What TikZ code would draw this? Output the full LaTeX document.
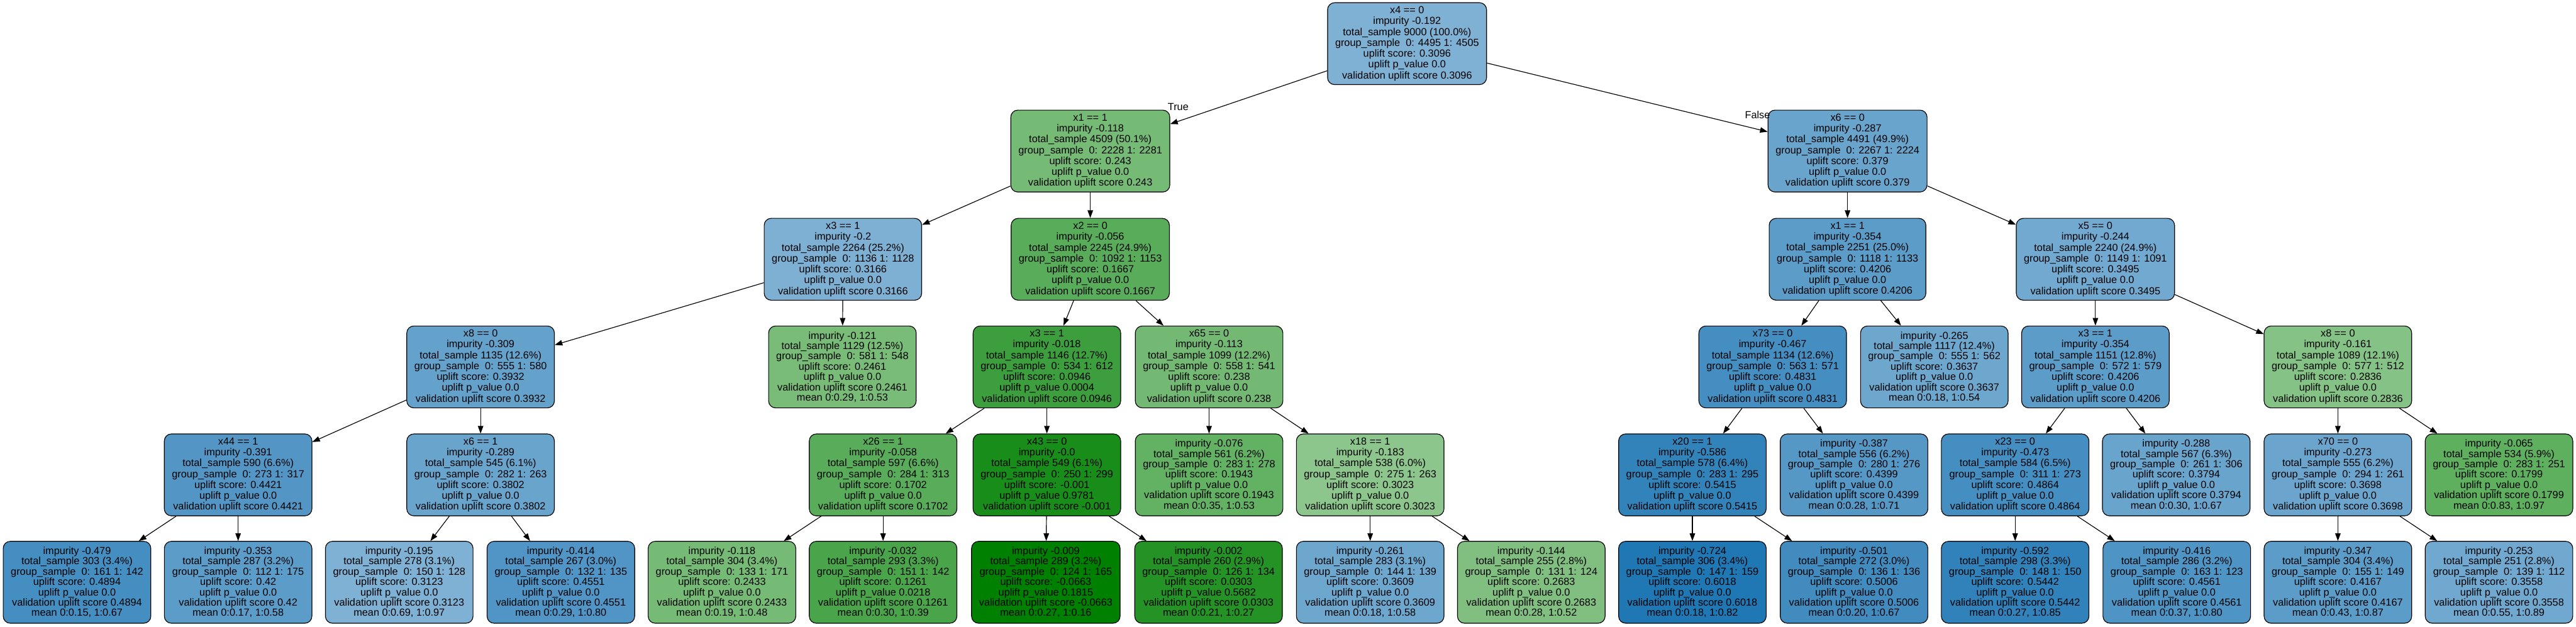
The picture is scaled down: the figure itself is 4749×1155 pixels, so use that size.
\documentclass[tikz,border=0pt]{standalone}
\usepackage{fontspec}
\setmainfont{Liberation Sans}
\usetikzlibrary{arrows.meta}
\definecolor{upliftblue}{HTML}{1F77B4}
\definecolor{upliftgreen}{HTML}{008000}
\tikzset{
  treebox/.style={draw=black, line width=1.35pt, rounded corners=13pt, minimum width=272pt,
    minimum height=151pt, inner xsep=14pt, inner ysep=0pt, align=center,
    font=\fontsize{18.9}{20}\selectfont},
  leafbox/.style={treebox, font=\fontsize{18.9}{19}\selectfont},
  edge/.style={-{Triangle[length=14pt,width=10pt]}, line width=1.35pt},
  edgelabel/.style={inner sep=0pt, font=\fontsize{18.9}{20}\selectfont}
}
% name, position, fill, test, impurity, total, group, score, p_value
\newcommand{\splitNode}[9]{
  \node[treebox, fill=#3] (#1) at (#2) {#4\\impurity #5\\total\_sample #6\\group\_sample~ #7\\uplift score: #8\\uplift p\_value #9\\validation uplift score #8};
}
% name, position, fill, impurity, total, group, score, p_value, mean
\newcommand{\leafNode}[9]{
  \node[leafbox, fill=#3] (#1) at (#2) {impurity #4\\total\_sample #5\\group\_sample~ #6\\uplift score: #7\\uplift p\_value #8\\validation uplift score #7\\mean #9};
}
\begin{document}
\begin{tikzpicture}[x=1pt, y=-1pt]
  \fill[white] (0,0) rectangle (4749,1155);
  \useasboundingbox (0,0) rectangle (4749,1155);

  % Root and first splits
  \splitNode{N}{2594,80.5}{upliftblue!57}{x4 == 0}{-0.192}{9000 (100.0\%)}{0: 4495 1: 4505}{0.3096}{0.0}
  \splitNode{NL}{2010,278.5}{upliftgreen!54}{x1 == 1}{-0.118}{4509 (50.1\%)}{0: 2228 1: 2281}{0.243}{0.0}
  \splitNode{NR}{3406,278.5}{upliftblue!67}{x6 == 0}{-0.287}{4491 (49.9\%)}{0: 2267 1: 2224}{0.379}{0.0}

  % Level 2
  \splitNode{NLL}{1554,478}{upliftblue!58}{x3 == 1}{-0.2}{2264 (25.2\%)}{0: 1136 1: 1128}{0.3166}{0.0}
  \splitNode{NLR}{2010,478}{upliftgreen!65}{x2 == 0}{-0.056}{2245 (24.9\%)}{0: 1092 1: 1153}{0.1667}{0.0}
  \splitNode{NRL}{3406,478}{upliftblue!73}{x1 == 1}{-0.354}{2251 (25.0\%)}{0: 1118 1: 1133}{0.4206}{0.0}
  \splitNode{NRR}{3863,478}{upliftblue!63}{x5 == 0}{-0.244}{2240 (24.9\%)}{0: 1149 1: 1091}{0.3495}{0.0}

  % Level 3
  \splitNode{NLLL}{886,676.5}{upliftblue!69}{x8 == 0}{-0.309}{1135 (12.6\%)}{0: 555 1: 580}{0.3932}{0.0}
  \leafNode{NLLR}{1553,676.5}{upliftgreen!53}{-0.121}{1129 (12.5\%)}{0: 581 1: 548}{0.2461}{0.0}{0:0.29, 1:0.53}
  \splitNode{NLRL}{1930,676.5}{upliftgreen!76}{x3 == 1}{-0.018}{1146 (12.7\%)}{0: 534 1: 612}{0.0946}{0.0004}
  \splitNode{NLRR}{2229,676.5}{upliftgreen!55}{x65 == 0}{-0.113}{1099 (12.2\%)}{0: 558 1: 541}{0.238}{0.0}
  \splitNode{NRLL}{3268,676.5}{upliftblue!83}{x73 == 0}{-0.467}{1134 (12.6\%)}{0: 563 1: 571}{0.4831}{0.0}
  \leafNode{NRLR}{3566,676.5}{upliftblue!65}{-0.265}{1117 (12.4\%)}{0: 555 1: 562}{0.3637}{0.0}{0:0.18, 1:0.54}
  \splitNode{NRRL}{3863,676.5}{upliftblue!73}{x3 == 1}{-0.354}{1151 (12.8\%)}{0: 572 1: 579}{0.4206}{0.0}
  \splitNode{NRRR}{4310,676.5}{upliftgreen!48}{x8 == 0}{-0.161}{1089 (12.1\%)}{0: 577 1: 512}{0.2836}{0.0}

  % Level 4
  \splitNode{NLLLL}{439,875.5}{upliftblue!77}{x44 == 1}{-0.391}{590 (6.6\%)}{0: 273 1: 317}{0.4421}{0.0}
  \splitNode{NLLLR}{886,875.5}{upliftblue!67}{x6 == 1}{-0.289}{545 (6.1\%)}{0: 282 1: 263}{0.3802}{0.0}
  \splitNode{NLRLL}{1628,875.5}{upliftgreen!65}{x26 == 1}{-0.058}{597 (6.6\%)}{0: 284 1: 313}{0.1702}{0.0}
  \splitNode{NLRLR}{1930,875.5}{upliftgreen!90}{x43 == 0}{-0.0}{549 (6.1\%)}{0: 250 1: 299}{-0.001}{0.9781}
  \leafNode{NLRRL}{2229,875.5}{upliftgreen!61}{-0.076}{561 (6.2\%)}{0: 283 1: 278}{0.1943}{0.0}{0:0.35, 1:0.53}
  \splitNode{NLRRR}{2526,875.5}{upliftgreen!45}{x18 == 1}{-0.183}{538 (6.0\%)}{0: 275 1: 263}{0.3023}{0.0}
  \splitNode{NRLLL}{3120,875.5}{upliftblue!91}{x20 == 1}{-0.586}{578 (6.4\%)}{0: 283 1: 295}{0.5415}{0.0}
  \leafNode{NRLLR}{3418,875.5}{upliftblue!76}{-0.387}{556 (6.2\%)}{0: 280 1: 276}{0.4399}{0.0}{0:0.28, 1:0.71}
  \splitNode{NRRLL}{3715,875.5}{upliftblue!83}{x23 == 0}{-0.473}{584 (6.5\%)}{0: 311 1: 273}{0.4864}{0.0}
  \leafNode{NRRLR}{4012,875.5}{upliftblue!67}{-0.288}{567 (6.3\%)}{0: 261 1: 306}{0.3794}{0.0}{0:0.30, 1:0.67}
  \splitNode{NRRRL}{4310,875.5}{upliftblue!66}{x70 == 0}{-0.273}{555 (6.2\%)}{0: 294 1: 261}{0.3698}{0.0}
  \leafNode{NRRRR}{4607,875.5}{upliftgreen!63}{-0.065}{534 (5.9\%)}{0: 283 1: 251}{0.1799}{0.0}{0:0.83, 1:0.97}

  % Level 5 leaves
  \leafNode{NLLLLL}{142,1073.5}{upliftblue!83}{-0.479}{303 (3.4\%)}{0: 161 1: 142}{0.4894}{0.0}{0:0.15, 1:0.67}
  \leafNode{NLLLLR}{439,1073.5}{upliftblue!73}{-0.353}{287 (3.2\%)}{0: 112 1: 175}{0.42}{0.0}{0:0.17, 1:0.58}
  \leafNode{NLLLRL}{736,1073.5}{upliftblue!57}{-0.195}{278 (3.1\%)}{0: 150 1: 128}{0.3123}{0.0}{0:0.69, 1:0.97}
  \leafNode{NLLLRR}{1034,1073.5}{upliftblue!78}{-0.414}{267 (3.0\%)}{0: 132 1: 135}{0.4551}{0.0}{0:0.29, 1:0.80}
  \leafNode{NLRLLL}{1331,1073.5}{upliftgreen!54}{-0.118}{304 (3.4\%)}{0: 133 1: 171}{0.2433}{0.0}{0:0.19, 1:0.48}
  \leafNode{NLRLLR}{1628,1073.5}{upliftgreen!71}{-0.032}{293 (3.3\%)}{0: 151 1: 142}{0.1261}{0.0218}{0:0.30, 1:0.39}
  \leafNode{NLRLRL}{1928,1073.5}{upliftgreen}{-0.009}{289 (3.2\%)}{0: 124 1: 165}{-0.0663}{0.1815}{0:0.27, 1:0.16}
  \leafNode{NLRLRR}{2228,1073.5}{upliftgreen!86}{-0.002}{260 (2.9\%)}{0: 126 1: 134}{0.0303}{0.5682}{0:0.21, 1:0.27}
  \leafNode{NLRRRL}{2526,1073.5}{upliftblue!65}{-0.261}{283 (3.1\%)}{0: 144 1: 139}{0.3609}{0.0}{0:0.18, 1:0.58}
  \leafNode{NLRRRR}{2823,1073.5}{upliftgreen!50}{-0.144}{255 (2.8\%)}{0: 131 1: 124}{0.2683}{0.0}{0:0.28, 1:0.52}
  \leafNode{NRLLLL}{3120,1073.5}{upliftblue}{-0.724}{306 (3.4\%)}{0: 147 1: 159}{0.6018}{0.0}{0:0.18, 1:0.82}
  \leafNode{NRLLLR}{3418,1073.5}{upliftblue!85}{-0.501}{272 (3.0\%)}{0: 136 1: 136}{0.5006}{0.0}{0:0.20, 1:0.67}
  \leafNode{NRRLLL}{3715,1073.5}{upliftblue!92}{-0.592}{298 (3.3\%)}{0: 148 1: 150}{0.5442}{0.0}{0:0.27, 1:0.85}
  \leafNode{NRRLLR}{4013,1073.5}{upliftblue!79}{-0.416}{286 (3.2\%)}{0: 163 1: 123}{0.4561}{0.0}{0:0.37, 1:0.80}
  \leafNode{NRRRLL}{4310,1073.5}{upliftblue!73}{-0.347}{304 (3.4\%)}{0: 155 1: 149}{0.4167}{0.0}{0:0.43, 1:0.87}
  \leafNode{NRRRLR}{4607,1073.5}{upliftblue!64}{-0.253}{251 (2.8\%)}{0: 139 1: 112}{0.3558}{0.0}{0:0.55, 1:0.89}

  % Edges
  \draw[edge] (N) -- (NL);
  \draw[edge] (N) -- (NR);
  \node[edgelabel] (TrueLabel) at (2172,197) {True};
  \node[edgelabel] (FalseLabel) at (3240,212) {False};
  \draw[edge] (NL) -- (NLL);
  \draw[edge] (NL) -- (NLR);
  \draw[edge] (NR) -- (NRL);
  \draw[edge] (NR) -- (NRR);
  \draw[edge] (NLL) -- (NLLL);
  \draw[edge] (NLL) -- (NLLR);
  \draw[edge] (NLR) -- (NLRL);
  \draw[edge] (NLR) -- (NLRR);
  \draw[edge] (NRL) -- (NRLL);
  \draw[edge] (NRL) -- (NRLR);
  \draw[edge] (NRR) -- (NRRL);
  \draw[edge] (NRR) -- (NRRR);
  \draw[edge] (NLLL) -- (NLLLL);
  \draw[edge] (NLLL) -- (NLLLR);
  \draw[edge] (NLRL) -- (NLRLL);
  \draw[edge] (NLRL) -- (NLRLR);
  \draw[edge] (NLRR) -- (NLRRL);
  \draw[edge] (NLRR) -- (NLRRR);
  \draw[edge] (NRLL) -- (NRLLL);
  \draw[edge] (NRLL) -- (NRLLR);
  \draw[edge] (NRRL) -- (NRRLL);
  \draw[edge] (NRRL) -- (NRRLR);
  \draw[edge] (NRRR) -- (NRRRL);
  \draw[edge] (NRRR) -- (NRRRR);
  \draw[edge] (NLLLL) -- (NLLLLL);
  \draw[edge] (NLLLL) -- (NLLLLR);
  \draw[edge] (NLLLR) -- (NLLLRL);
  \draw[edge] (NLLLR) -- (NLLLRR);
  \draw[edge] (NLRLL) -- (NLRLLL);
  \draw[edge] (NLRLL) -- (NLRLLR);
  \draw[edge] (NLRLR) -- (NLRLRL);
  \draw[edge] (NLRLR) -- (NLRLRR);
  \draw[edge] (NLRRR) -- (NLRRRL);
  \draw[edge] (NLRRR) -- (NLRRRR);
  \draw[edge] (NRLLL) -- (NRLLLL);
  \draw[edge] (NRLLL) -- (NRLLLR);
  \draw[edge] (NRRLL) -- (NRRLLL);
  \draw[edge] (NRRLL) -- (NRRLLR);
  \draw[edge] (NRRRL) -- (NRRRLL);
  \draw[edge] (NRRRL) -- (NRRRLR);

\end{tikzpicture}
\end{document}
